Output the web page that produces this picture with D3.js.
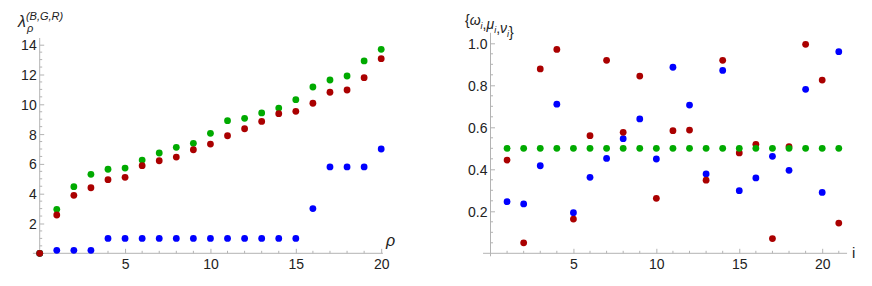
<!DOCTYPE html>
<html>
<head>
<meta charset="utf-8">
<script src="https://cdn.jsdelivr.net/npm/d3@7"></script>
<style>
    body { margin: 0; background: #fff; }
    svg { font-family: "Liberation Sans", Arial, sans-serif; }
    .axis path, .axis line { stroke: #b3b3b3; }
    .axis text { fill: #222; font-size: 14px; }
</style>
</head>
<body>
<div id="chart"></div>
<script>
// left panel: lambda_rho for B, G, R
var rho = [0, 1, 2, 3, 4, 5, 6, 7, 8, 9, 10, 11, 12, 13, 14, 15, 16, 17, 18, 19, 20];
var lamB = [0, 0.2, 0.2, 0.2, 1, 1, 1, 1, 1, 1, 1, 1, 1, 1, 1, 1, 3, 5.8, 5.8, 5.8, 7];
var lamG = [0, 2.95, 4.47, 5.30, 5.64, 5.72, 6.26, 6.73, 7.11, 7.38, 8.05, 8.90, 9.06, 9.42, 9.75, 10.31, 11.16, 11.63, 11.90, 12.91, 13.69];
var lamR = [0, 2.57, 3.89, 4.40, 4.94, 5.10, 5.88, 6.21, 6.46, 6.95, 7.33, 7.89, 8.36, 8.85, 9.37, 9.53, 10.07, 10.81, 10.96, 11.79, 13.06];

// right panel: omega_i, mu_i, nu_i
var idx = [1, 2, 3, 4, 5, 6, 7, 8, 9, 10, 11, 12, 13, 14, 15, 16, 17, 18, 19, 20, 21];
var omega = [0.246, 0.235, 0.417, 0.710, 0.193, 0.362, 0.452, 0.546, 0.640, 0.449, 0.886, 0.706, 0.378, 0.871, 0.298, 0.359, 0.462, 0.395, 0.781, 0.290, 0.960];
var mu = [0.444, 0.05, 0.878, 0.971, 0.163, 0.560, 0.919, 0.576, 0.844, 0.262, 0.584, 0.587, 0.348, 0.919, 0.478, 0.519, 0.070, 0.508, 0.995, 0.825, 0.144];
var nu = [0.5, 0.5, 0.5, 0.5, 0.5, 0.5, 0.5, 0.5, 0.5, 0.5, 0.5, 0.5, 0.5, 0.5, 0.5, 0.5, 0.5, 0.5, 0.5, 0.5, 0.5];

var leftXTicks = [5, 10, 15, 20];
var leftYTicks = [2, 4, 6, 8, 10, 12, 14];
var rightXTicks = [5, 10, 15, 20];
var rightYTicks = [0.2, 0.4, 0.6, 0.8, 1.0];

var BLUE = "#0000ff", GREEN = "#00aa00", RED = "#aa0000";

var width = 872, height = 286;
var svg = d3.select("#chart").append("svg")
    .attr("width", width)
    .attr("height", height);

function panel(o) {
    var g = svg.append("g");
    var x = d3.scaleLinear().domain([0, 20]).range(o.xr);
    var y = d3.scaleLinear().domain(o.yd).range(o.yr);
    var x0 = x(o.xmin), x1 = x(o.xmax);

    // axis lines (cross at origin)
    g.append("line")
        .attr("x1", x0).attr("x2", x1).attr("y1", y(0)).attr("y2", y(0))
        .attr("stroke", "#b3b3b3");
    g.append("line")
        .attr("x1", x(0)).attr("x2", x(0)).attr("y1", y(0) + 3).attr("y2", y(o.ymax))
        .attr("stroke", "#b3b3b3");

    // minor ticks
    g.selectAll(".mx").data(o.xMinor).enter().append("line")
        .attr("x1", d => x(d)).attr("x2", d => x(d))
        .attr("y1", y(0)).attr("y2", y(0) - 2.5)
        .attr("stroke", "#b3b3b3");
    g.selectAll(".my").data(o.yMinor).enter().append("line")
        .attr("x1", x(0)).attr("x2", x(0) + 2.5)
        .attr("y1", d => y(d)).attr("y2", d => y(d))
        .attr("stroke", "#b3b3b3");

    // major ticks + labels via d3 axes
    var xa = g.append("g").attr("class", "axis")
        .attr("transform", "translate(0," + y(0) + ")")
        .call(d3.axisBottom(x).tickValues(o.xTicks).tickSize(-4.5).tickPadding(6).tickFormat(d3.format("d")));
    xa.select(".domain").remove();
    var ya = g.append("g").attr("class", "axis")
        .attr("transform", "translate(" + x(0) + ",0)")
        .call(d3.axisLeft(y).tickValues(o.yTicks).tickSize(-4.5).tickPadding(3).tickFormat(o.yFmt));
    ya.select(".domain").remove();
    ya.selectAll("text").attr("dy", "0.36em");

    // points
    o.series.forEach(function (s) {
        g.selectAll(null).data(s.vals).enter().append("circle")
            .attr("cx", (d, i) => x(o.xs[i]))
            .attr("cy", d => y(d))
            .attr("r", 3.4)
            .attr("fill", s.color);
    });
    return { x: x, y: y };
}

var leftMinorX = rho.filter(d => d > 0 && d % 5 !== 0);
var leftMinorY = d3.range(1, 29).map(d => d * 0.5).filter(d => d % 2 !== 0);
var rightMinorX = idx.filter(d => d % 5 !== 0);
var rightMinorY = d3.range(1, 21).map(d => d * 0.05).filter(d => Math.abs(d * 5 - Math.round(d * 5)) > 1e-6);

panel({
    xr: [39.7, 381.2], yd: [0, 14], yr: [253.3, 44.7],
    xmin: -0.4, xmax: 20.1, ymax: 14.45,
    xTicks: leftXTicks, yTicks: leftYTicks, yFmt: d3.format("d"),
    xMinor: leftMinorX, yMinor: leftMinorY,
    xs: rho,
    series: [{ vals: lamB, color: BLUE }, { vals: lamG, color: GREEN }, { vals: lamR, color: RED }]
});

panel({
    xr: [490.5, 822.2], yd: [0, 1], yr: [253.3, 43.3],
    xmin: -0.45, xmax: 21.5, ymax: 1.05,
    xTicks: rightXTicks, yTicks: rightYTicks, yFmt: d3.format(".1f"),
    xMinor: rightMinorX, yMinor: rightMinorY,
    xs: idx,
    series: [{ vals: omega, color: BLUE }, { vals: mu, color: RED }, { vals: nu, color: GREEN }]
});

// axis labels
var lab = svg.append("text").attr("x", 18).attr("y", 27).attr("fill", "#222")
    .style("font-size", "16px").style("font-style", "italic");
lab.append("tspan").text("λ");
lab.append("tspan").attr("dy", -7).style("font-size", "11px").text("(B,G,R)");
svg.append("text").attr("x", 27).attr("y", 32).attr("fill", "#222")
    .style("font-size", "11px").style("font-style", "italic").text("ρ");

svg.append("text").attr("x", 386).attr("y", 246).attr("fill", "#222")
    .style("font-size", "16px").style("font-style", "italic").text("ρ");

var rl = svg.append("text").attr("x", 465).attr("y", 25).attr("fill", "#222")
    .style("font-size", "14px");
var parts = [["{", null], ["ω", "i"], [",", null], ["μ", "i"], [",", null], ["ν", "i"], ["}", null]];
parts.forEach(function (p) {
    var t = rl.append("tspan").text(p[0]);
    t.style("font-style", p[1] === null ? "normal" : "italic");
    if (p[1]) {
        rl.append("tspan").attr("dy", 4).style("font-size", "9px").style("font-style", "italic").text(p[1]);
        rl.append("tspan").attr("dy", -4).text("");
    }
});

svg.append("text").attr("x", 852).attr("y", 258).attr("fill", "#222")
    .style("font-size", "15px").text("i");
</script>
</body>
</html>
